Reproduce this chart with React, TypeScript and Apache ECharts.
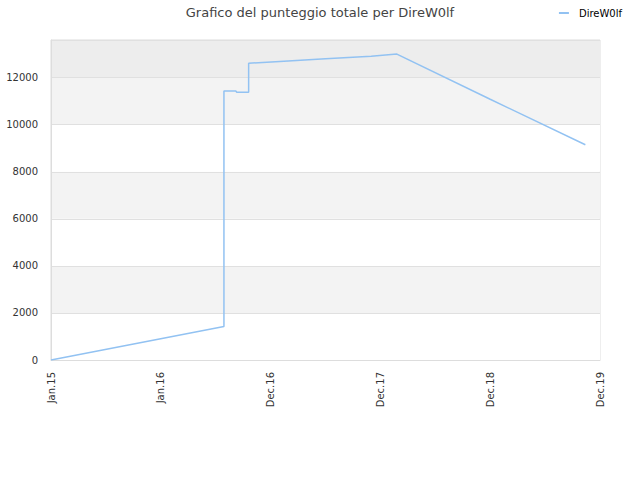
import { useEffect, useRef } from 'react'
import * as echarts from 'echarts'

const titleText = 'Grafico del punteggio totale per DireW0lf'
const seriesName = 'DireW0lf'

// x position in label steps (0 = Jan.15 ... 60 = Dec.19), y = punteggio
const xLabels = ['Jan.15', 'Jan.16', 'Dec.16', 'Dec.17', 'Dec.18', 'Dec.19']
const pointX = [0, 18.9, 18.9, 20.2, 20.3, 21.6, 21.6, 25, 30, 35, 37.8, 48, 58.4]
const pointY = [0, 1420, 11430, 11430, 11380, 11380, 12610, 12690, 12800, 12910, 13000, 11080, 9150]

const bandColors = ['#ffffff', '#f3f3f3', '#ffffff', '#f3f3f3', '#ffffff', '#f3f3f3', '#ededed']

export default function App() {
  const ref = useRef<HTMLDivElement | null>(null)

  useEffect(() => {
    if (!ref.current) return
    const chart = echarts.init(ref.current, null, { renderer: 'svg' })
    chart.setOption({
      animation: false,
      textStyle: { fontFamily: 'DejaVu Sans' },
      title: {
        text: titleText,
        left: 'center',
        top: 1,
        textStyle: { fontSize: 13, fontWeight: 'normal', color: '#444' },
      },
      legend: {
        right: 13,
        top: 3,
        itemWidth: 10,
        itemHeight: 2,
        icon: 'rect',
        textStyle: { fontSize: 10, color: '#000', padding: [0, 0, 0, 5] },
        data: [seriesName],
      },
      grid: {
        left: 51,
        right: 40,
        top: 40,
        bottom: 120,
        outerBoundsMode: 'none',
        show: true,
        borderColor: '#dddddd',
        borderWidth: 1,
      },
      xAxis: {
        type: 'value',
        min: 0,
        max: 60,
        interval: 12,
        axisLine: { show: true, onZero: false, lineStyle: { color: '#dddddd' } },
        axisTick: { show: false },
        splitLine: { show: false },
        axisLabel: {
          rotate: 90,
          fontSize: 10,
          color: '#333',
          margin: 12,
          formatter: (v: number) => xLabels[Math.round(v / 12)] ?? '',
        },
      },
      yAxis: {
        type: 'value',
        min: 0,
        max: 13600,
        interval: 2000,
        axisLine: { show: true, lineStyle: { color: '#dddddd' } },
        axisTick: { show: false },
        axisLabel: {
          fontSize: 10,
          color: '#333',
          margin: 13,
          showMaxLabel: false,
          formatter: (v: number) => String(v),
        },
        splitLine: { show: true, lineStyle: { color: '#e0e0e0' } },
        splitArea: { show: true, areaStyle: { color: bandColors } },
      },
      series: [
        {
          name: seriesName,
          type: 'line',
          data: pointX.map((x, i) => [x, pointY[i]]),
          showSymbol: false,
          symbol: 'none',
          lineStyle: { color: '#92c2f2', width: 1.5 },
          itemStyle: { color: '#92c2f2' },
        },
      ],
    })
    return () => chart.dispose()
  }, [])

  return <div ref={ref} style={{ position: 'absolute', left: 0, top: 0, width: 640, height: 480 }} />
}
